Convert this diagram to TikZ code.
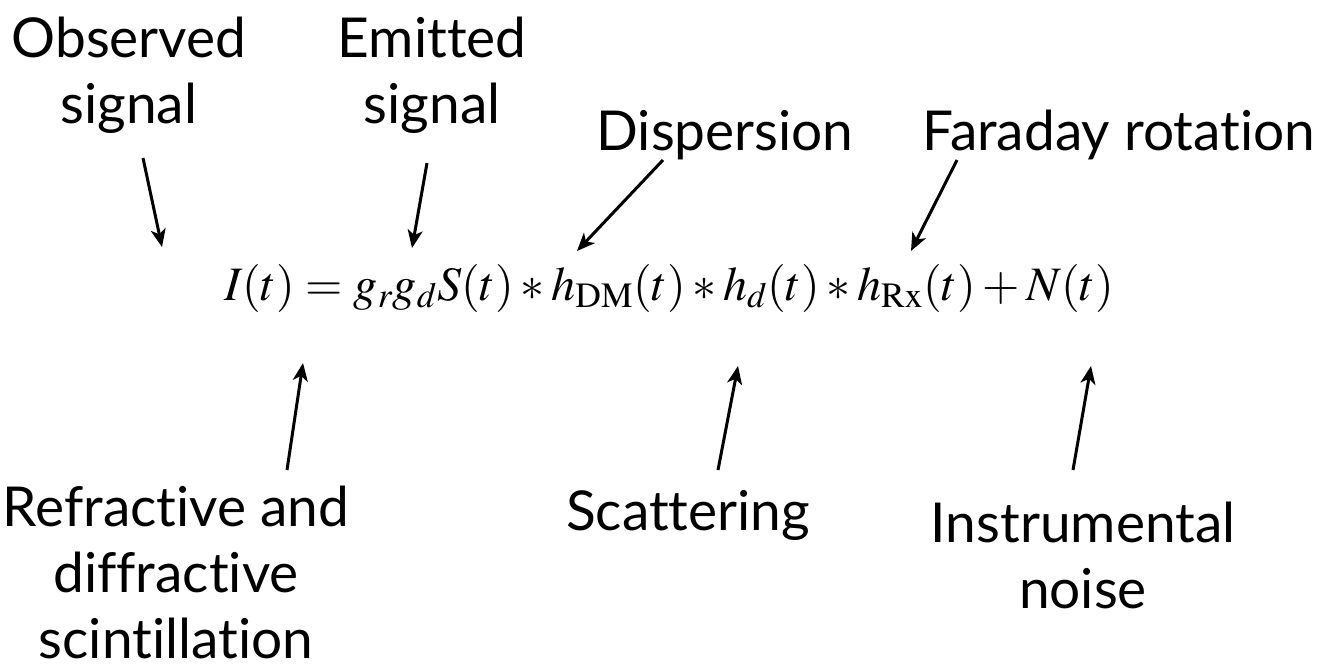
\documentclass[tikz,border=0pt]{standalone}
\usepackage{mathptmx}
\usepackage{fontspec}
\setmainfont[Ligatures=NoCommon]{Lato}
\usetikzlibrary{arrows.meta}
\tikzset{
  lbl/.style={font=\fontsize{55}{66}\selectfont, align=center, anchor=base, inner sep=0pt},
  arr/.style={line width=3pt, -{Stealth[length=18pt,width=15pt,inset=5pt]}}
}
\begin{document}
\begin{tikzpicture}[x=1pt,y=-1pt]
\useasboundingbox (0,0) rectangle (1332,670);
% labels (base anchor = baseline of the last line)
\node[lbl] (obs) at (129,123) {Observed\\signal};
\node[lbl] (emi) at (432,123) {Emitted\\signal};
\node[lbl] (dis) at (725,150) {Dispersion};
\node[lbl] (far) at (1119,150) {Faraday rotation};
\node[lbl] (ref) at (176,658) {Refractive and\\diffractive\\scintillation};
\node[lbl] (sca) at (688,530) {Scattering};
\node[lbl] (ins) at (1083,608) {Instrumental\\noise};
% equation
\node[anchor=base, inner sep=0pt, font=\fontsize{48}{56}\selectfont] (eq) at (669,300)
  {$I(t) = g_r g_d S(t) * h_{\mathrm{DM}}(t) * h_d(t) * h_{\mathrm{Rx}}(t) + N(t)$};
% arrow end points
\coordinate (a1s) at (143,158); \coordinate (a1e) at (162,247);
\coordinate (a2s) at (427,163); \coordinate (a2e) at (412,248);
\coordinate (a3s) at (663,160); \coordinate (a3e) at (577,251);
\coordinate (a4s) at (957,160); \coordinate (a4e) at (911,251);
\coordinate (b1s) at (287,470); \coordinate (b1e) at (303,363);
\coordinate (b2s) at (718,470); \coordinate (b2e) at (738,366);
\coordinate (b3s) at (1073,470); \coordinate (b3e) at (1091,366);
\draw[arr] (a1s) -- (a1e);
\draw[arr] (a2s) -- (a2e);
\draw[arr] (a3s) -- (a3e);
\draw[arr] (a4s) -- (a4e);
\draw[arr] (b1s) -- (b1e);
\draw[arr] (b2s) -- (b2e);
\draw[arr] (b3s) -- (b3e);
\end{tikzpicture}
\end{document}
